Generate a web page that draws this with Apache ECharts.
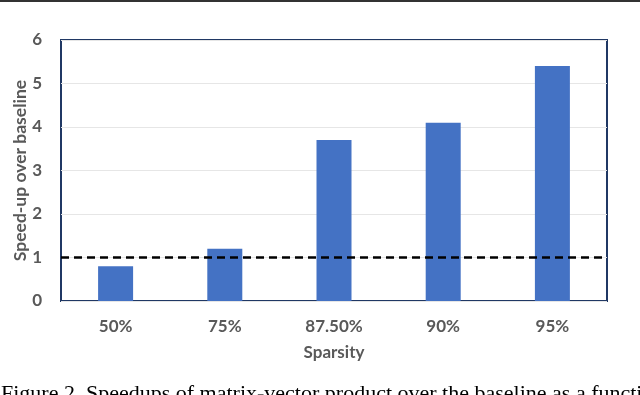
<!DOCTYPE html>
<html>
<head>
<meta charset="utf-8">
<script src="https://cdn.jsdelivr.net/npm/echarts@6/dist/echarts.min.js"></script>
<style>
  html, body { margin: 0; padding: 0; background: #fff; }
  #chart { width: 640px; height: 395px; }
</style>
</head>
<body>
<div id="chart"></div>
<script>
// data
const categories = ['50%', '75%', '87.50%', '90%', '95%']
const speedup = [0.8, 1.2, 3.7, 4.1, 5.4]
const baseline = 1
const caption = 'Figure 2. Speedups of matrix-vector product over the baseline as a function'

const grey = '#595959'
const labelFont = { color: grey, fontSize: 17, fontWeight: 'bold', fontFamily: 'Lato' }

const myChart = echarts.init(document.getElementById('chart'))
myChart.setOption({
  animation: false,
  grid: {
    left: 61,
    right: 33,
    top: 40,
    bottom: 94,
    outerBoundsMode: 'none',
    show: true,
    borderColor: '#203864',
    borderWidth: 2
  },
  xAxis: {
    type: 'category',
    data: categories,
    name: 'Sparsity',
    nameLocation: 'middle',
    nameGap: 43,
    nameMoveOverlap: false,
    nameTextStyle: labelFont,
    axisLabel: Object.assign({ margin: 17 }, labelFont),
    axisLine: { show: false },
    axisTick: { show: false }
  },
  yAxis: {
    type: 'value',
    min: 0,
    max: 6,
    interval: 1,
    name: 'Speed-up over baseline',
    nameLocation: 'middle',
    nameGap: 32,
    nameMoveOverlap: false,
    nameTextStyle: Object.assign({}, labelFont, { fontSize: 17.5 }),
    axisLabel: Object.assign({ margin: 19 }, labelFont),
    axisLine: { show: false },
    axisTick: { show: false },
    splitLine: { show: true, lineStyle: { color: '#e6e6e6', width: 1 } }
  },
  series: [{
    type: 'bar',
    data: speedup,
    barWidth: 35,
    itemStyle: { color: '#4472C4' },
    markLine: {
      silent: true,
      symbol: ['none', 'none'],
      label: { show: false },
      lineStyle: { color: '#000', width: 2.5, type: [8, 5] },
      data: [{ yAxis: baseline }]
    }
  }],
  // page border line and cut-off caption
  graphic: [
    { type: 'rect', left: 0, top: 0, shape: { width: 640, height: 2 }, style: { fill: '#333' } },
    {
      type: 'text', left: 1, top: 383,
      style: { text: caption, fill: '#000', fontSize: 22, fontFamily: 'Liberation Serif' }
    }
  ]
})
</script>
</body>
</html>
